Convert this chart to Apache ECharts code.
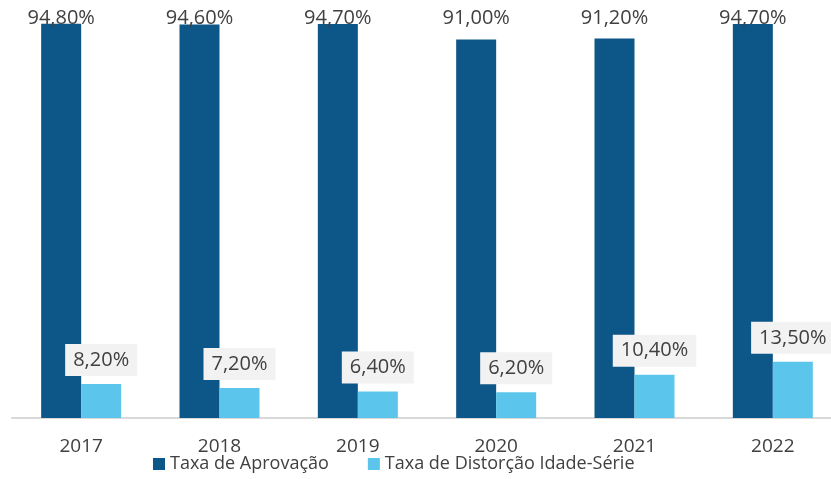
<!DOCTYPE html>
<html>
<head>
<meta charset="utf-8">
<script src="https://cdn.jsdelivr.net/npm/echarts@6/dist/echarts.min.js"></script>
<style>
  html, body { margin: 0; padding: 0; background: #fff; }
  #main { width: 831px; height: 479px; }
</style>
</head>
<body>
<div id="main"></div>
<script>
const anos = ['2017', '2018', '2019', '2020', '2021', '2022'];
const aprovacao = [94.8, 94.6, 94.7, 91.0, 91.2, 94.7];
const distorcao = [8.2, 7.2, 6.4, 6.2, 10.4, 13.5];

const fmt = p => p.value.toFixed(2).replace('.', ',') + '%';

const chart = echarts.init(document.getElementById('main'));

chart.setOption({
  animation: false,
  textStyle: { fontFamily: '"Open Sans", sans-serif' },
  grid: {
    left: 12, top: 2, width: 830, bottom: 61,
    containLabel: false,
    outerBoundsMode: 'none'
  },
  legend: {
    left: 153,
    top: 455,
    padding: 0,
    itemWidth: 12,
    itemHeight: 12,
    itemGap: 39,
    icon: 'rect',
    textStyle: { fontSize: 18, color: '#404040' },
    data: ['Taxa de Aprovação', 'Taxa de Distorção Idade-Série']
  },
  xAxis: {
    type: 'category',
    data: anos,
    axisLine: { lineStyle: { color: '#d9d9d9', width: 2 } },
    axisTick: { show: false },
    axisLabel: { fontSize: 19, color: '#404040', margin: 19 }
  },
  yAxis: {
    type: 'value',
    min: 0,
    max: 100,
    show: false,
    splitLine: { show: false }
  },
  series: [
    {
      name: 'Taxa de Aprovação',
      type: 'bar',
      data: aprovacao,
      barWidth: 40,
      barGap: '0%',
      itemStyle: { color: '#0c5688' },
      label: {
        show: true,
        position: 'top',
        formatter: fmt,
        fontSize: 20,
        color: '#404040'
      },
      labelLayout: p => ({
        x: p.rect.x + p.rect.width / 2,
        y: 18,
        align: 'center',
        verticalAlign: 'middle'
      })
    },
    {
      name: 'Taxa de Distorção Idade-Série',
      type: 'bar',
      data: distorcao,
      barWidth: 40,
      itemStyle: { color: '#5bc5eb' },
      label: {
        show: true,
        position: 'top',
        distance: 8,
        formatter: fmt,
        fontSize: 20,
        lineHeight: 20,
        color: '#404040',
        backgroundColor: '#f2f2f2',
        padding: [6, 8]
      }
    }
  ]
});
</script>
</body>
</html>
